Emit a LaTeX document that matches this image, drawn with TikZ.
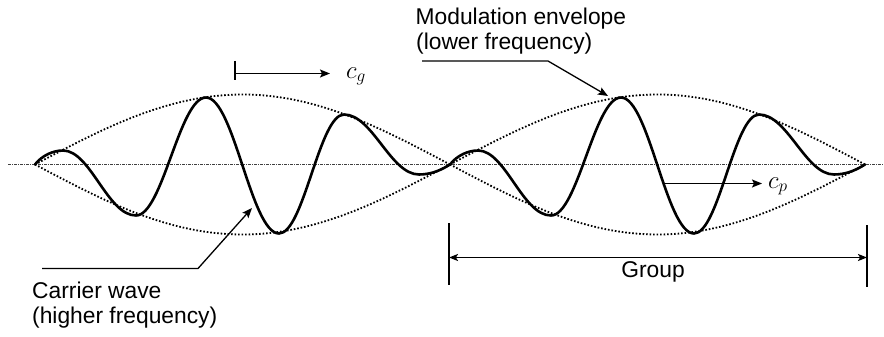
\documentclass[tikz,border=0pt]{standalone}
\usepackage{fontspec}
\setmainfont{Liberation Sans}
\usetikzlibrary{arrows.meta}
\begin{document}
\begin{tikzpicture}[x=1pt,y=-1pt,
  lbl/.style={anchor=base west, inner sep=0pt, font=\fontsize{22.8}{27}\selectfont},
  mth/.style={anchor=base west, inner sep=0pt, font=\fontsize{25}{29}\selectfont},
  lead/.style={line width=1.3pt},
  tip/.style={-{Stealth[length=10pt,width=8pt,inset=2pt]}},
  dtip/.style={{Stealth[length=9pt,width=7pt,inset=2pt]}-{Stealth[length=9pt,width=7pt,inset=2pt]}},
  env/.style={line width=1.8pt, dash pattern=on 1.6pt off 1.9pt},
  axisline/.style={line width=0.9pt, black!75, dash pattern=on 3pt off 1pt on 1pt off 1pt},
  wave/.style={line width=2.6pt, line join=round, line cap=round}]
\useasboundingbox (0,0) rectangle (884,337);

% axis
\coordinate (axL) at (8,164.5);
\coordinate (axR) at (884,164.5);
\draw[axisline] (axL) -- (axR);

% two wave groups
\foreach \s in {35,450} {
  \begin{scope}[shift={(\s,164.5)}]
    \draw[env] plot[domain=0:415,samples=70,smooth] (\x,{-70*sin(0.43373*\x)});
    \draw[env] plot[domain=0:415,samples=70,smooth] (\x,{70*sin(0.43373*\x)});
    \draw[wave] (0,0) .. controls (7,-9) and (18,-14) .. (28,-14)
      .. controls (55.5,-14) and (72.5,51) .. (101,51)
      .. controls (127.6,51) and (144.4,-67) .. (171,-67)
      .. controls (198.7,-67) and (216.3,69) .. (244,69)
      .. controls (268.7,69) and (284.3,-50) .. (309,-50)
      .. controls (337.5,-50) and (355.5,10) .. (384,10)
      .. controls (397,10) and (407,5) .. (415,0);
  \end{scope}
}

% c_g arrow
\coordinate (cgt1) at (235,61);
\coordinate (cgt2) at (235,80);
\coordinate (cgs) at (235,73.5);
\coordinate (cge) at (330,73.5);
\draw[lead] (cgt1) -- (cgt2);
\draw[lead,tip] (cgs) -- (cge);
\node[mth] (cg) at (346,78) {$c_g$};

% c_p arrow
\coordinate (cps) at (665,183.5);
\coordinate (cpe) at (762,183.5);
\draw[lead,tip] (cps) -- (cpe);
\node[mth] (cp) at (768,188) {$c_p$};

% Modulation envelope label
\node[lbl] (mod1) at (415.5,24.5) {Modulation envelope};
\node[lbl] (mod2) at (416,50) {(lower frequency)};
\coordinate (mA) at (422,61);
\coordinate (mB) at (548,61);
\coordinate (mT) at (608,96);
\draw[lead,tip] (mA) -- (mB) -- (mT);

% Carrier wave label
\node[lbl] (car1) at (32,298) {Carrier wave};
\node[lbl] (car2) at (32,323) {(higher frequency)};
\coordinate (cA) at (42,268.5);
\coordinate (cB) at (198,268.5);
\coordinate (cT) at (252,208);
\draw[lead,tip] (cA) -- (cB) -- (cT);

% Group dimension
\coordinate (gL1) at (449,223);
\coordinate (gL2) at (449,285);
\coordinate (gR1) at (867,225);
\coordinate (gR2) at (867,287);
\coordinate (gLa) at (449,257.5);
\coordinate (gRa) at (867,257.5);
\draw[lead] (gL1) -- (gL2);
\draw[lead] (gR1) -- (gR2);
\draw[lead,dtip] (gLa) -- (gRa);
\node[anchor=base, inner sep=0pt, font=\fontsize{22.8}{27}\selectfont] (grp) at (653,277.5) {Group};
\end{tikzpicture}
\end{document}
